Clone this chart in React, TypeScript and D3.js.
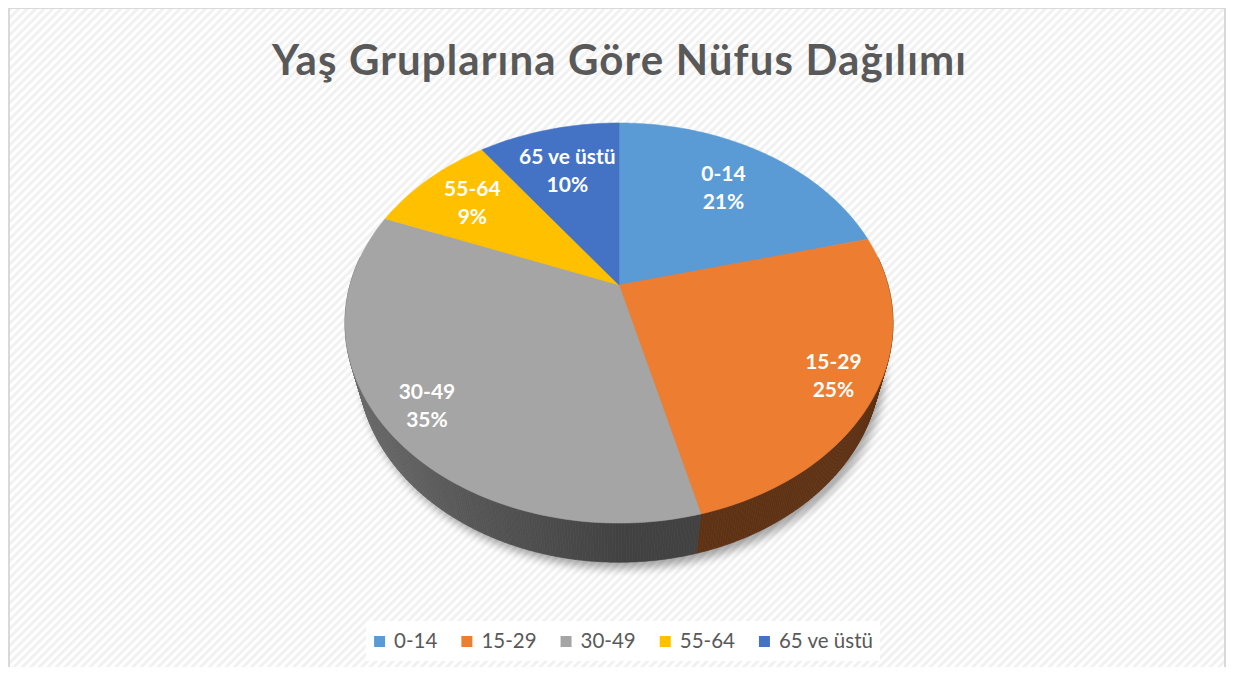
import React, { useEffect, useRef } from "react";
import * as d3 from "d3";

const categories = ["0-14", "15-29", "30-49", "55-64", "65 ve üstü"];
const values = [21, 25, 35, 9, 10];
const colors = ["#5b9bd5", "#ed7d31", "#a5a5a5", "#ffc000", "#4472c4"];
const labelRadius = [0.7, 0.85, 0.85, 0.75, 0.7];
const title = "Yaş Gruplarına Göre Nüfus Dağılımı";

const W = 1236;
const H = 675;

export default function App() {
  const ref = useRef<SVGSVGElement>(null);

  useEffect(() => {
    const svg = d3.select(ref.current);
    svg.selectAll("*").remove();

    const defs = svg.append("defs");
    const pat = defs
      .append("pattern")
      .attr("id", "bgpat")
      .attr("width", 6)
      .attr("height", 6)
      .attr("patternUnits", "userSpaceOnUse")
      .attr("patternTransform", "rotate(45)");
    pat.append("rect").attr("width", 6).attr("height", 6).attr("fill", "#ffffff");
    pat.append("rect").attr("width", 3).attr("height", 6).attr("fill", "#f1f1f1");

    const blur = defs.append("filter").attr("id", "shadow").attr("x", "-20%").attr("y", "-20%").attr("width", "140%").attr("height", "140%");
    blur.append("feGaussianBlur").attr("stdDeviation", 5);

    // background & border
    svg.append("rect").attr("x", 0).attr("y", 0).attr("width", W).attr("height", H).attr("fill", "#ffffff");
    svg.append("rect").attr("x", 9).attr("y", 8).attr("width", 1216).attr("height", 680).attr("fill", "url(#bgpat)").attr("stroke", "#d9d9d9").attr("stroke-width", 2);

    // title
    svg
      .append("text")
      .attr("x", 619)
      .attr("y", 75)
      .attr("text-anchor", "middle")
      .attr("font-family", "Lato, 'Open Sans', sans-serif")
      .attr("font-weight", 700)
      .attr("font-size", 42)
      .attr("textLength", 694)
      .attr("lengthAdjust", "spacing")
      .attr("fill", "#595959")
      .text(title);

    // projection
    const R = 269;
    const D = 987;
    const phi = (45.8 * Math.PI) / 180;
    const depth = 64;
    const cx = 619;
    const cy = 285;
    const sinP = Math.sin(phi);
    const cosP = Math.cos(phi);
    const proj = (a: number, r: number, y: number): [number, number] => {
      const x = r * Math.sin(a);
      const z = -r * Math.cos(a);
      const tt = z * cosP + y * sinP;
      const s = D / (D - tt);
      return [cx + x * s, cy + (z * sinP - y * cosP) * s];
    };

    const pie = d3.pie<number>().sort(null).value((d) => d)(values);

    const shade = (col: string, a: number) => {
      const c = d3.rgb(col);
      const f = 0.4 + 0.27 * Math.max(0, -Math.sin(a));
      return d3.rgb(c.r * f, c.g * f, c.b * f).toString();
    };

    // shadow
    const shadowPts: [number, number][] = [];
    for (let i = 0; i <= 360; i++) {
      const a = (i * Math.PI) / 180;
      const p = proj(a, R, -depth);
      shadowPts.push([p[0] + 4, p[1] + 6]);
    }
    svg
      .append("path")
      .attr("d", d3.line()(shadowPts) + "Z")
      .attr("fill", "#000")
      .attr("opacity", 0.35)
      .attr("filter", "url(#shadow)");

    // side walls
    const sideG = svg.append("g");
    const step = Math.PI / 360;
    pie.forEach((sl, i) => {
      for (let a = sl.startAngle; a < sl.endAngle - 1e-9; a += step) {
        const b = Math.min(a + step, sl.endAngle);
        if (Math.cos((a + b) / 2) > 0.15) continue;
        const p1 = proj(a, R, 0);
        const p2 = proj(b, R, 0);
        const p3 = proj(b, R, -depth);
        const p4 = proj(a, R, -depth);
        const col = shade(colors[i], (a + b) / 2);
        sideG
          .append("path")
          .attr("d", `M${p1}L${p2}L${p3}L${p4}Z`)
          .attr("fill", col)
          .attr("stroke", col)
          .attr("stroke-width", 0.6);
      }
    });

    // top face
    const topG = svg.append("g");
    pie.forEach((sl, i) => {
      const pts: [number, number][] = [[cx, cy]];
      const n = Math.max(2, Math.ceil((sl.endAngle - sl.startAngle) / (Math.PI / 180)));
      for (let k = 0; k <= n; k++) {
        const a = sl.startAngle + ((sl.endAngle - sl.startAngle) * k) / n;
        pts.push(proj(a, R, 0));
      }
      topG
        .append("path")
        .attr("d", d3.line()(pts) + "Z")
        .attr("fill", colors[i])
        .attr("stroke", colors[i])
        .attr("stroke-width", 0.5);
    });

    // labels
    const lg = svg.append("g");
    const total = d3.sum(values);
    pie.forEach((sl, i) => {
      const mid = (sl.startAngle + sl.endAngle) / 2;
      const p = proj(mid, R * labelRadius[i], 0);
      const txt = lg
        .append("text")
        .attr("text-anchor", "middle")
        .attr("font-family", "Lato, 'Open Sans', sans-serif")
        .attr("font-weight", 700)
        .attr("font-size", 21)
        .attr("fill", "#ffffff");
      txt.append("tspan").attr("x", p[0]).attr("y", p[1] - 7).text(categories[i]);
      txt
        .append("tspan")
        .attr("x", p[0])
        .attr("y", p[1] + 21)
        .text(`${Math.round((values[i] / total) * 100)}%`);
    });

    // legend
    const legG = svg.append("g");
    legG.append("rect").attr("x", 366).attr("y", 621).attr("width", 514).attr("height", 40).attr("fill", "#ffffff");
    const items = legG.append("g");
    let x = 0;
    categories.forEach((c, i) => {
      const g = items.append("g").attr("transform", `translate(${x},0)`);
      g.append("rect").attr("x", 0).attr("y", -12).attr("width", 11).attr("height", 11).attr("fill", colors[i]);
      const tx = g
        .append("text")
        .attr("x", 20)
        .attr("y", 0)
        .attr("font-family", "Lato, 'Open Sans', sans-serif")
        .attr("font-size", 20.5)
        .attr("fill", "#595959")
        .text(c);
      const w = (tx.node() as SVGTextElement).getComputedTextLength();
      x += 20 + w + 24;
    });
    const totalW = x - 24;
    items.attr("transform", `translate(${623.5 - totalW / 2},648)`);
  }, []);

  return (
    <div style={{ margin: -8 }}>
      <svg ref={ref} width={W} height={H} style={{ display: "block" }} />
    </div>
  );
}
